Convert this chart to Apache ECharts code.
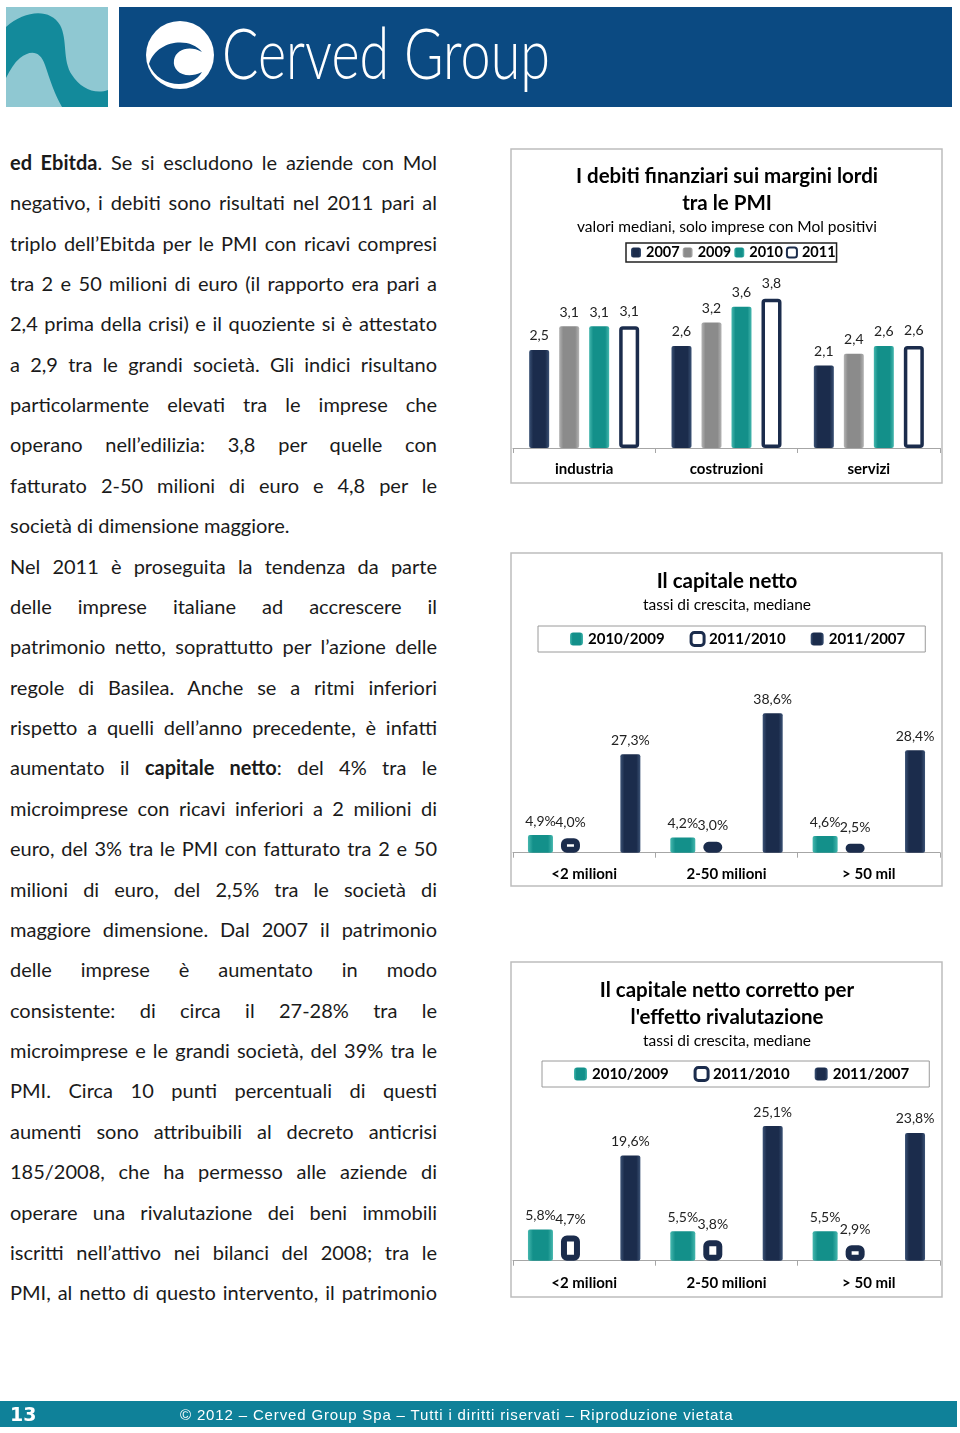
<!DOCTYPE html>
<html><head><meta charset="utf-8">
<script src="https://cdn.jsdelivr.net/npm/echarts@6/dist/echarts.min.js"></script>
<style>
html,body{margin:0;padding:0;background:#fff;}
#page{position:relative;width:960px;height:1433px;overflow:hidden;font-family:Lato,sans-serif;}
#hdr{position:absolute;left:0;top:0;}
#body{position:absolute;left:10px;top:141.8px;width:427px;color:#1a1a1a;font-size:20px;font-family:Lato,sans-serif;}
.ln{height:40.38px;line-height:40.38px;text-align:justify;text-align-last:justify;overflow:visible;}
.ln.last{text-align:left;text-align-last:left;}
#chart{position:absolute;left:0;top:0;width:960px;height:1433px;}
#footer{position:absolute;left:0;top:1401px;width:957px;height:26px;background:#0f8199;color:#fff;}
#pg{position:absolute;left:10px;top:0;line-height:26px;font-weight:bold;font-size:19px;font-family:"DejaVu Sans",sans-serif;}
#copy{position:absolute;left:180px;top:0;line-height:28px;font-size:15px;letter-spacing:0.85px;font-family:"Liberation Sans",sans-serif;white-space:nowrap;}
</style></head>
<body>
<div id="page">
<svg id="hdr" width="960" height="115">
  <rect x="6" y="7" width="102" height="100" fill="#8fc8d2"/>
  <path d="M6,27 C25,10 50,8 60,25 C68,40 62,60 72,75 C80,88 95,95 108,90 L108,107 L62,107 C55,95 50,80 45,65 C40,50 30,50 20,58 C14,63 10,70 6,78 Z" fill="#138a9b"/>
  <rect x="119" y="7" width="833" height="100" fill="#0b4a82"/>
  <circle cx="180" cy="55" r="34" fill="#fff"/>
  <path d="M149,64 C156,40 190,36 202,52 C190,45 176,49 174,60 C172,72 186,80 202,72 C192,90 158,88 149,64 Z" fill="#0b4a82"/>
  <text x="222" y="79" font-family="Lato" font-weight="300" font-size="70" fill="#fff" textLength="328" lengthAdjust="spacingAndGlyphs">Cerved Group</text>
</svg>
<div id="body">
<div class="ln"><b>ed Ebitda</b>. Se si escludono le aziende con Mol</div>
<div class="ln">negativo, i debiti sono risultati nel 2011 pari al</div>
<div class="ln">triplo dell’Ebitda per le PMI con ricavi compresi</div>
<div class="ln">tra 2 e 50 milioni di euro (il rapporto era pari a</div>
<div class="ln">2,4 prima della crisi) e il quoziente si è attestato</div>
<div class="ln">a 2,9 tra le grandi società. Gli indici risultano</div>
<div class="ln">particolarmente elevati tra le imprese che</div>
<div class="ln">operano nell’edilizia: 3,8 per quelle con</div>
<div class="ln">fatturato 2-50 milioni di euro e 4,8 per le</div>
<div class="ln last">società di dimensione maggiore.</div>
<div class="ln">Nel 2011 è proseguita la tendenza da parte</div>
<div class="ln">delle imprese italiane ad accrescere il</div>
<div class="ln">patrimonio netto, soprattutto per l’azione delle</div>
<div class="ln">regole di Basilea. Anche se a ritmi inferiori</div>
<div class="ln">rispetto a quelli dell’anno precedente, è infatti</div>
<div class="ln">aumentato il <b>capitale netto</b>: del 4% tra le</div>
<div class="ln">microimprese con ricavi inferiori a 2 milioni di</div>
<div class="ln">euro, del 3% tra le PMI con fatturato tra 2 e 50</div>
<div class="ln">milioni di euro, del 2,5% tra le società di</div>
<div class="ln">maggiore dimensione. Dal 2007 il patrimonio</div>
<div class="ln">delle imprese è aumentato in modo</div>
<div class="ln">consistente: di circa il 27-28% tra le</div>
<div class="ln">microimprese e le grandi società, del 39% tra le</div>
<div class="ln">PMI. Circa 10 punti percentuali di questi</div>
<div class="ln">aumenti sono attribuibili al decreto anticrisi</div>
<div class="ln">185/2008, che ha permesso alle aziende di</div>
<div class="ln">operare una rivalutazione dei beni immobili</div>
<div class="ln">iscritti nell’attivo nei bilanci del 2008; tra le</div>
<div class="ln">PMI, al netto di questo intervento, il patrimonio</div>
</div>
<div id="chart"></div>
<div id="footer"><span id="pg">13</span><span id="copy">© 2012 – Cerved Group Spa – Tutti i diritti riservati – Riproduzione vietata</span></div>
</div>
<script>
// ---- data ----
const sectors = ['industria', 'costruzioni', 'servizi'];
const debt2007 = [2.5, 2.6, 2.1];
const debt2009 = [3.1, 3.2, 2.4];
const debt2010 = [3.1, 3.6, 2.6];
const debt2011 = [3.1, 3.8, 2.6];

const sizeClasses = ['<2 milioni', '2-50 milioni', '> 50 mil'];
const netCap_10_09 = [4.9, 4.2, 4.6];
const netCap_11_10 = [4.0, 3.0, 2.5];
const netCap_11_07 = [27.3, 38.6, 28.4];

const adjCap_10_09 = [5.8, 5.5, 5.5];
const adjCap_11_10 = [4.7, 3.8, 2.9];
const adjCap_11_07 = [19.6, 25.1, 23.8];

const legendDebt = ['2007', '2009', '2010', '2011'];
const legendCap = ['2010/2009', '2011/2010', '2011/2007'];

// ---- fit body text ----
(function(){
  const body = document.getElementById('body');
  let maxW = 0;
  body.querySelectorAll('.ln').forEach(function(d){
    const s = document.createElement('span');
    s.style.whiteSpace = 'nowrap';
    s.innerHTML = d.innerHTML;
    s.style.position = 'absolute'; s.style.visibility = 'hidden';
    body.appendChild(s);
    maxW = Math.max(maxW, s.getBoundingClientRect().width);
    body.removeChild(s);
  });
  if (maxW > 425) body.style.fontSize = (20 * 425 / maxW).toFixed(2) + 'px';
})();

const F = 'Lato, sans-serif';
const NAVY_D = '#1b2c4c';
function hgrad(edge, mid){
  return {type:'linear', x:0, y:0, x2:1, y2:0, colorStops:[
    {offset:0, color:edge},{offset:0.2, color:mid},{offset:0.8, color:mid},{offset:1, color:edge}]};
}
const NAVY = hgrad('#3b5275', NAVY_D);
const GRAY = hgrad('#b4b4b4', '#8b8b8b');
const TEAL = hgrad('#45b7ae', '#13908a');

const fmt1 = p => p.value.toFixed(1).replace('.', ',');
const fmtPct = p => p.value.toFixed(1).replace('.', ',') + '%';

function lbl(fmt, dist){
  return {show:true, position:'top', distance:dist, fontSize:14, color:'#222', fontFamily:F, formatter:fmt};
}
function bar(name, data, gi, itemStyle, width, gap, fmt, dist){
  return {type:'bar', name:name, data:data, xAxisIndex:gi, yAxisIndex:gi,
    barWidth:width, barGap:gap, itemStyle:itemStyle, label:lbl(fmt, dist),
    emphasis:{disabled:true}};
}
function xa(gi, cats, margin){
  return {type:'category', gridIndex:gi, data:cats,
    axisLine:{show:true, lineStyle:{color:'#a6a6a6', width:1}},
    axisTick:{show:true, length:5, alignWithLabel:false, lineStyle:{color:'#a6a6a6'}},
    axisLabel:{color:'#000', fontWeight:'bold', fontSize:15, fontFamily:F, margin:margin},
    splitLine:{show:false}};
}
function ya(gi, max){
  return {type:'value', gridIndex:gi, min:0, max:max, show:false, splitLine:{show:false}};
}
function txt(x, y, t, size, bold){
  return {type:'text', x:x, y:y, silent:true,
    style:{text:t, textAlign:'center', textVerticalAlign:'middle',
      font:(bold?'bold ':'') + size + 'px Lato, sans-serif', fill:'#000'}};
}
function box(y, h){
  return {type:'rect', shape:{x:511, y:y, width:431, height:h}, silent:true,
    style:{fill:'none', stroke:'#bdbdbd', lineWidth:1.5}};
}
const WHITE1 = {color:'#fff', borderColor:NAVY_D, borderWidth:3.5, borderRadius:2};
const WHITE2 = {color:'#fff', borderColor:NAVY_D, borderWidth:6, borderRadius:3};

function capLegend(top, left){
  return {top:top, left:left, orient:'horizontal', padding:[5, 20, 5, 32],
    itemGap:25, itemWidth:13, itemHeight:13, borderColor:'#9a9a9a', borderWidth:1,
    selectedMode:false,
    textStyle:{fontSize:15, fontWeight:'bold', color:'#000', fontFamily:F},
    data:[{name:legendCap[0], itemStyle:{color:TEAL}},
          {name:legendCap[1], itemStyle:{color:'#fff', borderColor:NAVY_D, borderWidth:3}},
          {name:legendCap[2], itemStyle:{color:NAVY}}]};
}

const option = {
  animation:false,
  backgroundColor:'transparent',
  textStyle:{fontFamily:F},
  grid:[
    {left:513, right:20, top:291, bottom:985, outerBoundsMode:'none'},
    {left:513, right:20, top:708.3, bottom:580.3, outerBoundsMode:'none'},
    {left:513, right:20, top:1099.7, bottom:172.3, outerBoundsMode:'none'}
  ],
  xAxis:[xa(0, sectors, 14), xa(1, sizeClasses, 14), xa(2, sizeClasses, 15)],
  yAxis:[ya(0, 4), ya(1, 40), ya(2, 30)],
  legend:[
    {top:243, left:626, padding:[2, 1, 2, 5], itemGap:3, itemWidth:10, itemHeight:10,
     borderColor:'#222', borderWidth:1.5, selectedMode:false,
     textStyle:{fontSize:14.5, fontWeight:'bold', color:'#000', fontFamily:F},
     data:[{name:legendDebt[0], itemStyle:{color:NAVY}},
           {name:legendDebt[1], itemStyle:{color:GRAY}},
           {name:legendDebt[2], itemStyle:{color:TEAL}},
           {name:legendDebt[3], itemStyle:{color:'#fff', borderColor:NAVY_D, borderWidth:2}}]},
    capLegend(626, 538),
    capLegend(1061, 542)
  ],
  graphic:[
    box(149, 334), box(553, 333), box(962, 335),
    txt(727, 176, 'I debiti finanziari sui margini lordi', 20.5, true),
    txt(727, 203, 'tra le PMI', 20.5, true),
    txt(727, 227, 'valori mediani, solo imprese con Mol positivi', 15.5, false),
    txt(727, 581, 'Il capitale netto', 20.5, true),
    txt(727, 605, 'tassi di crescita, mediane', 15.5, false),
    txt(727, 990, 'Il capitale netto corretto per', 20.5, true),
    txt(727, 1017, "l'effetto rivalutazione", 20.5, true),
    txt(727, 1041, 'tassi di crescita, mediane', 15.5, false)
  ],
  series:[
    bar(legendDebt[0], debt2007, 0, {color:NAVY, borderRadius:2}, 20, '50%', fmt1, 7),
    bar(legendDebt[1], debt2009, 0, {color:GRAY, borderRadius:2}, 20, '50%', fmt1, 7),
    bar(legendDebt[2], debt2010, 0, {color:TEAL, borderRadius:2}, 20, '50%', fmt1, 7),
    bar(legendDebt[3], debt2011, 0, WHITE1, 20, '50%', fmt1, 8),

    bar(legendCap[0], netCap_10_09, 1, {color:TEAL, borderRadius:2}, 25, '32%', fmtPct, 7),
    bar(legendCap[1], netCap_11_10, 1, WHITE2, 19, '32%', fmtPct, 9),
    bar('gap-net', [], 1, {color:'transparent'}, 26, '32%', fmtPct, 7),
    bar(legendCap[2], netCap_11_07, 1, {color:NAVY, borderRadius:2}, 20, '32%', fmtPct, 7),

    bar(legendCap[0], adjCap_10_09, 2, {color:TEAL, borderRadius:2}, 25, '32%', fmtPct, 7),
    bar(legendCap[1], adjCap_11_10, 2, WHITE2, 19, '32%', fmtPct, 9),
    bar('gap-adj', [], 2, {color:'transparent'}, 26, '32%', fmtPct, 7),
    bar(legendCap[2], adjCap_11_07, 2, {color:NAVY, borderRadius:2}, 20, '32%', fmtPct, 7)
  ]
};
const chart = echarts.init(document.getElementById('chart'), null, {renderer:'canvas'});
chart.setOption(option);
</script>
</body></html>
